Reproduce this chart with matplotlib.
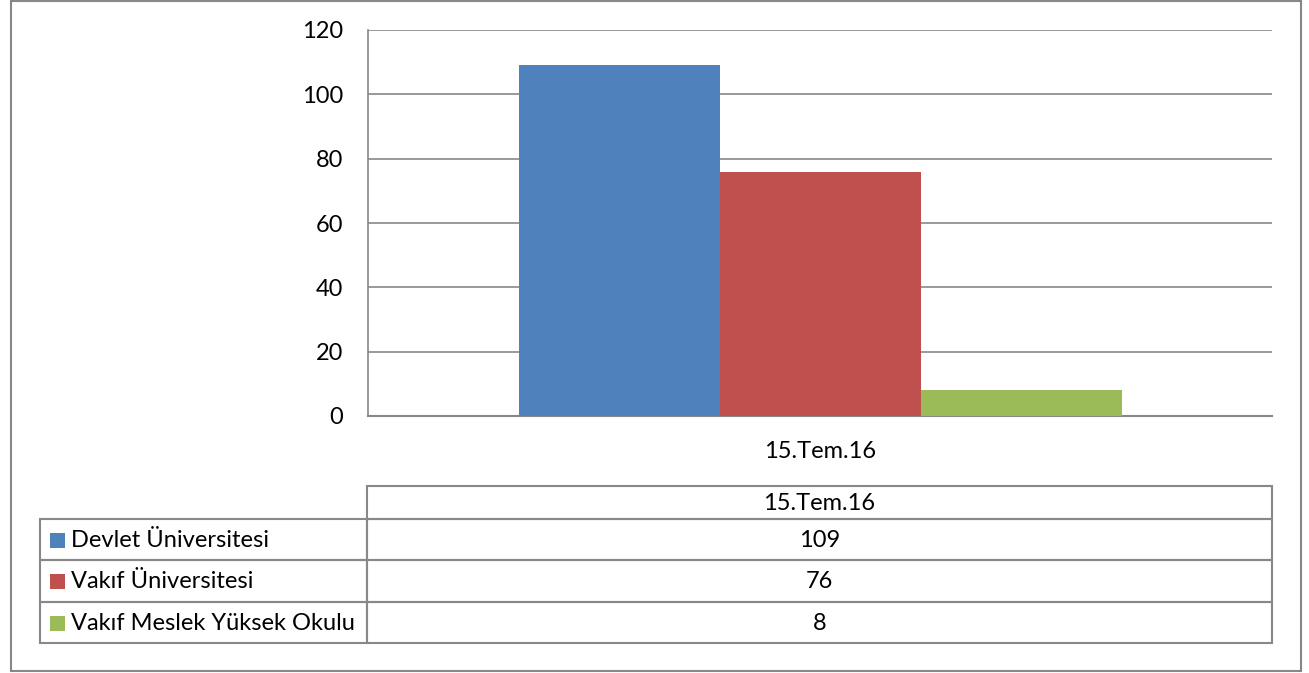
import matplotlib
matplotlib.use("Agg")
import matplotlib.pyplot as plt
from matplotlib.patches import Rectangle

plt.rcParams['font.family'] = ['Lato', 'DejaVu Sans']

categories = ["15.Tem.16"]
series_names = ["Devlet Üniversitesi", "Vakıf Üniversitesi", "Vakıf Meslek Yüksek Okulu"]
series_values = [[109], [76], [8]]
colors = ["#4f81bd", "#c0504d", "#9bbb59"]
yticks = [0, 20, 40, 60, 80, 100, 120]

W, H = 1309, 673
FS = 17
fig = plt.figure(figsize=(W / 100, H / 100), dpi=100)

def px_axes(x0, y0, x1, y1, **kw):
    return fig.add_axes([x0 / W, 1 - y1 / H, (x1 - x0) / W, (y1 - y0) / H], **kw)

# overlay for frame and table
ov = px_axes(0, 0, W, H)
ov.set_xlim(0, W)
ov.set_ylim(H, 0)
ov.axis('off')
grid_c = "#878787"
ov.add_patch(Rectangle((11, 1), 1290, 670, fill=False, edgecolor=grid_c, lw=1.5))

# chart
ax = px_axes(368, 30, 1272, 416)
ax.set_zorder(2)
ax.patch.set_alpha(0)
n = len(series_names)
bw = 201 / 904
for i, (name, vals, c) in enumerate(zip(series_names, series_values, colors)):
    xs = [k + (i - (n - 1) / 2) * bw for k in range(len(categories))]
    ax.bar(xs, vals, width=bw, color=c, zorder=3, label=name)
ax.set_xlim(-0.5, len(categories) - 0.5)
ax.set_ylim(0, 120)
ax.set_yticks(yticks)
ax.set_yticklabels([str(v) for v in yticks], fontsize=FS)
ax.set_xticks(range(len(categories)))
ax.set_xticklabels(categories, fontsize=FS)
ax.yaxis.grid(True, color=grid_c, lw=1.2, zorder=0)
ax.tick_params(axis='y', length=0, pad=18)
ax.tick_params(axis='x', length=0, pad=18)
for s in ['top', 'right']:
    ax.spines[s].set_visible(False)
ax.spines['left'].set_color(grid_c)
ax.spines['left'].set_linewidth(1.2)
ax.spines['bottom'].set_color(grid_c)
ax.spines['bottom'].set_linewidth(1.5)

# data table
tl, tdiv, tr = 40, 367, 1272
htop = 486
row_edges = [519, 560, 602, 643]
lc = "#888888"
ov.add_patch(Rectangle((tdiv, htop), tr - tdiv, row_edges[0] - htop, fill=False, edgecolor=lc, lw=1.5))
ov.text((tdiv + tr) / 2, (htop + row_edges[0]) / 2 + 1, categories[0], ha='center', va='center', fontsize=FS)
for r in range(n):
    y0, y1 = row_edges[r], row_edges[r + 1]
    ov.add_patch(Rectangle((tl, y0), tdiv - tl, y1 - y0, fill=False, edgecolor=lc, lw=1.5))
    ov.add_patch(Rectangle((tdiv, y0), tr - tdiv, y1 - y0, fill=False, edgecolor=lc, lw=1.5))
    ym = (y0 + y1) / 2
    ov.add_patch(Rectangle((50, ym - 7), 15, 15, facecolor=colors[r], edgecolor='none'))
    ov.text(71, ym + 1, series_names[r], ha='left', va='center', fontsize=FS)
    ov.text((tdiv + tr) / 2, ym + 1, str(series_values[r][0]), ha='center', va='center', fontsize=FS)

fig.savefig("out.png", dpi=100)
